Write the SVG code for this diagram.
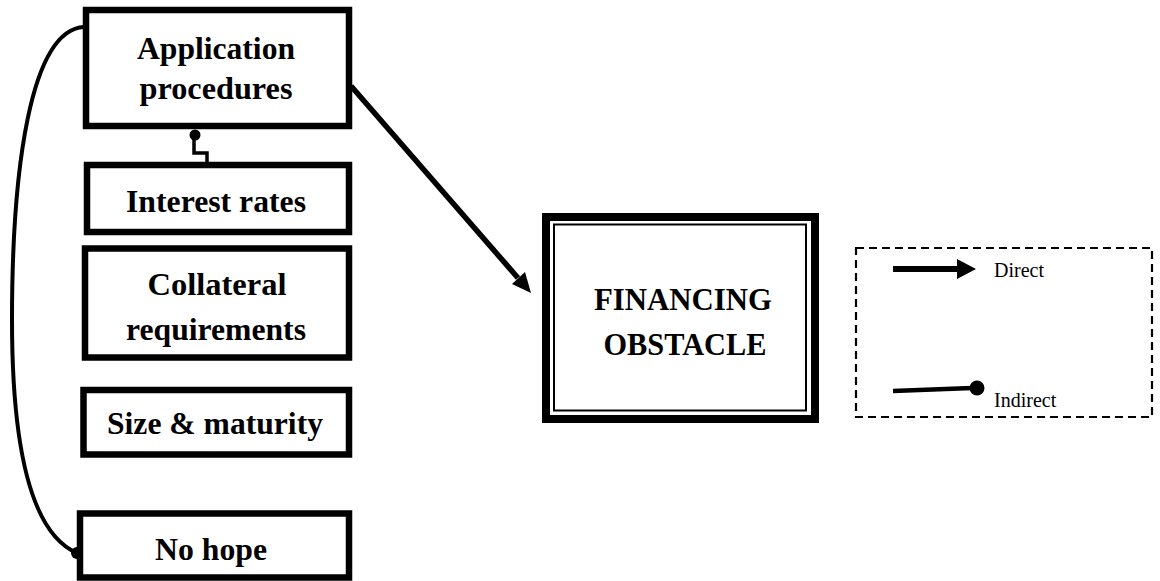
<svg xmlns="http://www.w3.org/2000/svg" width="1160" height="581" viewBox="0 0 1160 581">
<style>
.box{fill:#fff;stroke:#000;stroke-width:6.5}
.lbl{font-family:"Liberation Serif","Times New Roman",serif;font-weight:bold;font-size:31px;text-anchor:middle;fill:#000}
.leg{font-family:"Liberation Serif","Times New Roman",serif;font-size:20px;fill:#000}
.con{fill:none;stroke:#000}
</style>
<rect width="1160" height="581" fill="#fff"/>
<g id="connectors">
<path class="con" d="M84,27 C30,30 12,170 12,320 C12,460 35,535 77,553" stroke-width="4"/>
<circle cx="77" cy="553" r="6"/>
<path class="con" d="M207,163 V153 H194 V138" stroke-width="3.5"/>
<circle cx="195" cy="135" r="5.5"/>
<path class="con" d="M351,86 L518,278" stroke-width="5.5"/>
<path d="M531,293 L512,284 L525,272 Z" fill="#000"/>
</g>
<g id="app">
<rect class="box" x="86" y="10" width="263" height="116"/>
<text class="lbl" x="216" y="59" textLength="158" lengthAdjust="spacingAndGlyphs">Application</text>
<text class="lbl" x="216" y="99" textLength="153" lengthAdjust="spacingAndGlyphs">procedures</text>
</g>
<g id="interest">
<rect class="box" x="87" y="165" width="262" height="67"/>
<text class="lbl" x="216" y="212" textLength="180" lengthAdjust="spacingAndGlyphs">Interest rates</text>
</g>
<g id="collateral">
<rect class="box" x="85" y="248.5" width="264" height="109"/>
<text class="lbl" x="217" y="295" textLength="139" lengthAdjust="spacingAndGlyphs">Collateral</text>
<text class="lbl" x="216" y="340" textLength="180" lengthAdjust="spacingAndGlyphs">requirements</text>
</g>
<g id="size">
<rect class="box" x="83.5" y="390" width="265.5" height="64.5"/>
<text class="lbl" x="215" y="434" textLength="216" lengthAdjust="spacingAndGlyphs">Size &amp; maturity</text>
</g>
<g id="nohope">
<rect class="box" x="80" y="513.5" width="269" height="64"/>
<text class="lbl" x="211" y="560" textLength="112" lengthAdjust="spacingAndGlyphs">No hope</text>
</g>
<g id="obstacle">
<rect x="546" y="217" width="269" height="202" fill="#fff" stroke="#000" stroke-width="8"/>
<rect x="554" y="224.5" width="252" height="186" fill="none" stroke="#000" stroke-width="2"/>
<text class="lbl" x="683" y="310" textLength="178" lengthAdjust="spacingAndGlyphs">FINANCING</text>
<text class="lbl" x="685" y="355" textLength="163" lengthAdjust="spacingAndGlyphs">OBSTACLE</text>
</g>
<g id="legend">
<rect x="856" y="248" width="296" height="169" fill="none" stroke="#000" stroke-width="2.2" stroke-dasharray="8,5"/>
<line x1="893" y1="269" x2="958" y2="269" stroke="#000" stroke-width="6"/>
<path d="M976,269 L957,259 L957,279 Z" fill="#000"/>
<text class="leg" x="994" y="277">Direct</text>
<line x1="893" y1="391" x2="972" y2="388" stroke="#000" stroke-width="4.5"/>
<circle cx="977" cy="388" r="7.5"/>
<text class="leg" x="994" y="407">Indirect</text>
</g>
</svg>
